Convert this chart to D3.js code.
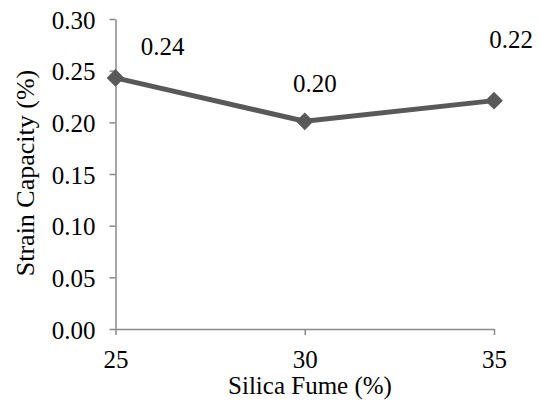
<!DOCTYPE html>
<html>
<head>
<meta charset="utf-8">
<script src="https://cdn.jsdelivr.net/npm/d3@7"></script>
<style>
html,body{margin:0;padding:0;background:#fff;}
svg{display:block;}
</style>
</head>
<body>
<svg id="chart" width="540" height="405"></svg>
<script>
const categories = [25, 30, 35];
const strainCapacity = [0.243, 0.201, 0.221];
const valueLabels = ["0.24", "0.20", "0.22"];
const yTicks = [0, 0.05, 0.10, 0.15, 0.20, 0.25, 0.30];
const xTitle = "Silica Fume (%)";
const yTitle = "Strain Capacity (%)";

const FONT = '"Liberation Serif", "Times New Roman", Tinos, serif';
const svg = d3.select("#chart");
const plotLeft = 115.5, plotRight = 494, plotTop = 19, plotBottom = 329;

const x = d3.scaleLinear().domain([25, 35]).range([plotLeft, plotRight]);
const y = d3.scaleLinear().domain([0, 0.30]).range([plotBottom, plotTop]);

const axisColor = "#898989";

// Y axis
const yAxis = d3.axisLeft(y).tickValues(yTicks).tickSize(6).tickSizeOuter(0).tickPadding(14)
  .tickFormat(d3.format(".2f"));
const gy = svg.append("g").attr("transform", `translate(${plotLeft},0)`).call(yAxis);
gy.attr("font-family", null).attr("font-size", null);
gy.select(".domain").attr("stroke", axisColor).attr("stroke-width", 1.5);
gy.selectAll(".tick line").attr("stroke", axisColor).attr("stroke-width", 1.5);
gy.selectAll(".tick text").style("font-size", "25px").style("font-family", FONT).attr("fill", "#000").attr("dy", "0.36em");

// X axis
const xAxis = d3.axisBottom(x).tickValues(categories).tickSize(6).tickSizeOuter(0).tickPadding(15)
  .tickFormat(d3.format("d"));
const gx = svg.append("g").attr("transform", `translate(0,${plotBottom})`).call(xAxis);
gx.attr("font-family", null).attr("font-size", null);
gx.select(".domain").attr("stroke", axisColor).attr("stroke-width", 1.5);
gx.selectAll(".tick line").attr("stroke", axisColor).attr("stroke-width", 1.5);
gx.selectAll(".tick text").style("font-size", "25px").style("font-family", FONT).attr("fill", "#000");

// Line
const data = categories.map((c, i) => ({c, v: strainCapacity[i], label: valueLabels[i]}));
const line = d3.line().x(d => x(d.c)).y(d => y(d.v));
svg.append("path").datum(data).attr("d", line)
  .attr("fill", "none").attr("stroke", "#595959").attr("stroke-width", 5).attr("stroke-linejoin", "round");

// Diamond markers
svg.selectAll(".marker").data(data).enter().append("path")
  .attr("class", "marker")
  .attr("d", d3.symbol().type(d3.symbolDiamond2).size(200))
  .attr("transform", d => `translate(${x(d.c)},${y(d.v)})`)
  .attr("fill", "#595959");

// Value labels
const labelDx = [47, 10, 17];
const labelDy = [-23, -29, -53];
svg.selectAll(".vlabel").data(data).enter().append("text")
  .attr("class", "vlabel")
  .attr("x", (d, i) => x(d.c) + labelDx[i])
  .attr("y", (d, i) => y(d.v) + labelDy[i])
  .attr("text-anchor", "middle")
  .style("font-size", "25px").style("font-family", FONT).attr("fill", "#000")
  .text(d => d.label);

// Axis titles
svg.append("text").attr("x", 310).attr("y", 394).attr("text-anchor", "middle")
  .style("font-size", "25px").style("font-family", FONT).attr("fill", "#000").text(xTitle);
svg.append("text").attr("transform", "translate(34,173) rotate(-90)").attr("text-anchor", "middle")
  .style("font-size", "26px").style("font-family", FONT).attr("fill", "#000").text(yTitle);
</script>
</body>
</html>
